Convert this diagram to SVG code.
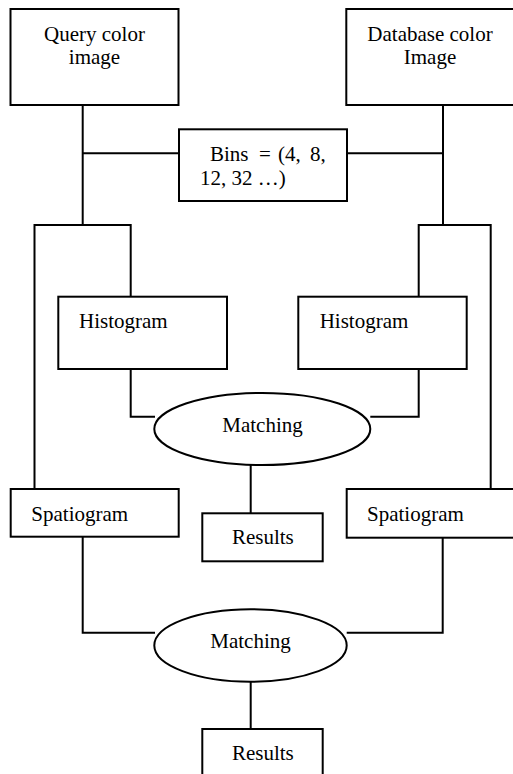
<svg xmlns="http://www.w3.org/2000/svg" width="513" height="774" viewBox="0 0 513 774">
<style>
.box{fill:#fff;stroke:#000;stroke-width:2}
.ln{fill:none;stroke:#000;stroke-width:2}
text{font-family:"Liberation Serif","Times New Roman",serif;font-size:21px;fill:#000}
.c{text-anchor:middle}
</style>
<rect width="513" height="774" fill="#fff"/>
<g id="connectors">
<path class="ln" d="M82.7,105 V225"/>
<path class="ln" d="M82.7,153.3 H179"/>
<path class="ln" d="M443,105 V225"/>
<path class="ln" d="M347,153.3 H443"/>
<path class="ln" d="M34.5,489 V225 H130.7 V297"/>
<path class="ln" d="M418.7,297 V225 H490.7 V489"/>
<path class="ln" d="M130.7,369 V416.7 H155"/>
<path class="ln" d="M418.7,369 V416.7 H370.3"/>
<path class="ln" d="M250.7,465 V513.3"/>
<path class="ln" d="M82.7,536.7 V632.7 H155"/>
<path class="ln" d="M442.7,537.7 V632.7 H346.7"/>
<path class="ln" d="M250.7,681.7 V729"/>
</g>
<g id="query">
<rect class="box" x="10.5" y="9" width="168" height="96"/>
<text class="c" x="94.5" y="40.5">Query color</text>
<text class="c" x="94.5" y="64">image</text>
</g>
<g id="database">
<rect class="box" x="346.3" y="9" width="180" height="96"/>
<text class="c" x="430" y="40.5">Database color</text>
<text class="c" x="430" y="64">Image</text>
</g>
<g id="bins">
<rect class="box" x="179" y="129.3" width="168" height="71.7"/>
<text y="160.5"><tspan x="210">Bins</tspan><tspan x="259">=</tspan><tspan x="278">(4,</tspan><tspan x="310">8,</tspan></text>
<text x="200" y="185">12, 32 …)</text>
</g>
<g id="histogram-left">
<rect class="box" x="58.3" y="296.7" width="168.7" height="72.3"/>
<text x="79" y="328">Histogram</text>
</g>
<g id="histogram-right">
<rect class="box" x="298.3" y="296.7" width="168.4" height="72.3"/>
<text x="319.7" y="328">Histogram</text>
</g>
<g id="matching-top">
<ellipse class="box" cx="262.3" cy="429" rx="108" ry="36"/>
<text class="c" x="262.5" y="431.5">Matching</text>
</g>
<g id="spatiogram-left">
<rect class="box" x="10.7" y="489" width="168" height="47.7"/>
<text x="31.3" y="520.5">Spatiogram</text>
</g>
<g id="spatiogram-right">
<rect class="box" x="346.7" y="489" width="180" height="48.7"/>
<text x="367" y="520.5">Spatiogram</text>
</g>
<g id="results-top">
<rect class="box" x="202.3" y="513.3" width="120.4" height="48"/>
<text class="c" x="262.8" y="544">Results</text>
</g>
<g id="matching-bottom">
<ellipse class="box" cx="250.5" cy="645.5" rx="96.2" ry="36.2"/>
<text class="c" x="250.5" y="647.7">Matching</text>
</g>
<g id="results-bottom">
<rect class="box" x="202.3" y="729" width="120.4" height="60"/>
<text class="c" x="262.8" y="760">Results</text>
</g>
</svg>
